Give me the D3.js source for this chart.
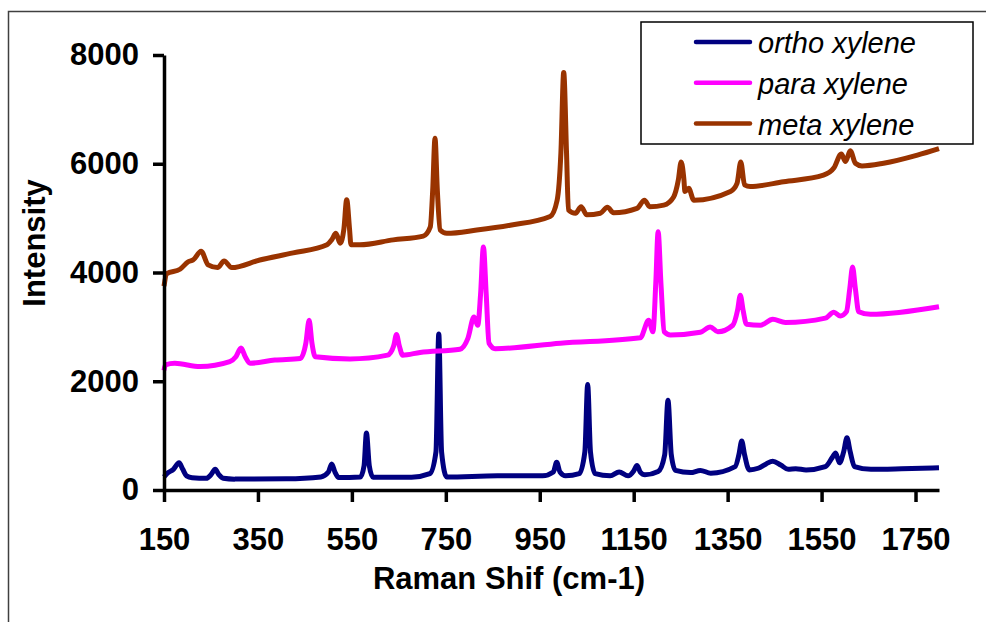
<!DOCTYPE html>
<html>
<head>
<meta charset="utf-8">
<script src="https://cdn.jsdelivr.net/npm/d3@7"></script>
<style>
  body { margin: 0; background: #fff; }
  .chart text { font-family: "Liberation Sans", Arial, sans-serif; }
</style>
</head>
<body>
<svg class="chart"></svg>
<script>
// Raman shift (cm-1), intensity pairs
const ortho = [
  [150, 240], [156, 300], [170, 380], [182, 500], [190, 380], [198, 260], [210, 225],
  [240, 215], [250, 280], [259, 380], [267, 280], [276, 215], [300, 200], [410, 205],
  [484, 240], [500, 330], [507, 480], [514, 330], [522, 230], [568, 240], [576, 450],
  [581, 1050], [587, 450], [595, 235], [677, 235], [716, 300], [729, 700], [735, 2870],
  [741, 700], [752, 240], [860, 260], [956, 260], [979, 330], [986, 510], [993, 330],
  [1005, 260], [1034, 300], [1046, 700], [1052, 1940], [1058, 700], [1068, 300],
  [1100, 260], [1119, 330], [1138, 260], [1150, 350], [1157, 450], [1164, 330],
  [1174, 280], [1202, 340], [1216, 650], [1223, 1650], [1230, 650], [1239, 360],
  [1271, 320], [1292, 360], [1314, 310], [1366, 430], [1374, 650], [1380, 900],
  [1386, 650], [1396, 370], [1415, 400], [1432, 480], [1446, 530], [1463, 460],
  [1479, 380], [1495, 390], [1517, 370], [1558, 430], [1573, 600], [1580, 680],
  [1588, 500], [1597, 700], [1604, 960], [1611, 700], [1620, 430], [1655, 380],
  [1720, 390], [1800, 410]
];

const para = [
  [150, 2200], [153, 2300], [173, 2330], [227, 2270], [290, 2360], [303, 2450],
  [314, 2610], [323, 2450], [333, 2330], [386, 2390], [440, 2420], [452, 2700],
  [459, 3120], [465, 2700], [472, 2450], [546, 2410], [626, 2480], [639, 2650],
  [645, 2860], [651, 2650], [658, 2480], [695, 2530], [780, 2590], [797, 2790],
  [810, 3180], [818, 3030], [824, 3600], [830, 4470], [836, 3600], [842, 2700],
  [855, 2600], [994, 2700], [1164, 2800], [1182, 3120], [1191, 2910], [1197, 3800],
  [1202, 4750], [1208, 3800], [1215, 2910], [1228, 2850], [1292, 2900], [1313, 3000],
  [1329, 2910], [1361, 3030], [1371, 3300], [1377, 3580], [1383, 3300], [1390, 3050],
  [1420, 3030], [1446, 3140], [1473, 3080], [1558, 3160], [1576, 3270], [1590, 3200],
  [1603, 3280], [1610, 3700], [1616, 4100], [1622, 3700], [1629, 3280], [1654, 3230],
  [1800, 3370]
];

const meta = [
  [150, 3750], [156, 3980], [184, 4060], [202, 4200], [212, 4230], [229, 4390],
  [244, 4140], [264, 4090], [278, 4210], [294, 4090], [354, 4230], [425, 4360],
  [497, 4510], [507, 4600], [516, 4720], [525, 4540], [533, 4800], [539, 5340],
  [545, 4800], [548, 4510], [567, 4510], [638, 4600], [702, 4670], [717, 4840],
  [722, 5500], [727, 6470], [732, 5500], [738, 4780], [752, 4720], [816, 4780],
  [887, 4870], [972, 5030], [987, 5330], [995, 6200], [1001, 7680], [1007, 6200],
  [1011, 5150], [1026, 5090], [1038, 5210], [1050, 5060], [1079, 5090], [1094, 5200],
  [1107, 5100], [1157, 5180], [1173, 5330], [1184, 5210], [1214, 5240], [1235, 5390],
  [1245, 5700], [1251, 6030], [1257, 5700], [1259, 5490], [1267, 5550], [1278, 5330],
  [1356, 5490], [1370, 5640], [1378, 6030], [1386, 5610], [1398, 5580], [1469, 5670],
  [1554, 5790], [1576, 5920], [1592, 6180], [1601, 6040], [1611, 6240], [1622, 6010],
  [1636, 5960], [1682, 6010], [1754, 6160], [1800, 6280]
];

const seriesNames = ['ortho xylene', 'para xylene', 'meta xylene'];
const seriesColors = ['#000080', '#ff00ff', '#993300'];
const xTicks = [150, 350, 550, 750, 950, 1150, 1350, 1550, 1750];
const yTicks = [0, 2000, 4000, 6000, 8000];

var width = 986,
    height = 622;

var plot = {left: 164, right: 939, top: 55, bottom: 490};

var svg = d3.select('.chart')
    .attr('width', width)
    .attr('height', height);

svg.append('rect')
    .attr('width', width)
    .attr('height', height)
    .attr('fill', '#fff');

// outer frame, only top and left edges fall inside the picture
svg.append('rect')
    .attr('x', 8.5)
    .attr('y', 11.5)
    .attr('width', width + 20)
    .attr('height', height + 20)
    .attr('fill', 'none')
    .attr('stroke', '#404040')
    .attr('stroke-width', 1.5);

var x = d3.scaleLinear().domain([150, 1800]).range([plot.left, plot.right]);
var y = d3.scaleLinear().domain([0, 8000]).range([plot.bottom, plot.top]);

var line = d3.line()
    .x(d => x(d[0]))
    .y(d => y(d[1]))
    .curve(d3.curveMonotoneX);

[ortho, para, meta].forEach((series, i) => {
    svg.append('path')
        .datum(series)
        .attr('d', line)
        .attr('fill', 'none')
        .attr('stroke', seriesColors[i])
        .attr('stroke-width', 5)
        .attr('stroke-linejoin', 'round');
});

var fmt = d3.format('d');

var xAxis = svg.append('g')
    .attr('transform', `translate(0,${plot.bottom})`)
    .call(d3.axisBottom(x).tickValues(xTicks).tickFormat(fmt)
        .tickSize(12).tickSizeOuter(0).tickPadding(26));

var yAxis = svg.append('g')
    .attr('transform', `translate(${plot.left},0)`)
    .call(d3.axisLeft(y).tickValues(yTicks).tickFormat(fmt)
        .tickSize(11).tickSizeOuter(0).tickPadding(14));

[xAxis, yAxis].forEach(ax => {
    ax.select('.domain').attr('stroke', '#000').attr('stroke-width', 3.5);
    ax.selectAll('.tick line').attr('stroke', '#000').attr('stroke-width', 3.5);
    ax.selectAll('.tick text')
        .attr('fill', '#000')
        .style('font-size', '31px')
        .style('font-weight', 'bold')
        .style('font-family', '"Liberation Sans", Arial, sans-serif');
});

svg.append('text')
    .attr('x', 509)
    .attr('y', 589)
    .attr('text-anchor', 'middle')
    .style('font-size', '31px')
    .style('font-weight', 'bold')
    .text('Raman Shif (cm-1)');

svg.append('text')
    .attr('transform', 'translate(45,243) rotate(-90)')
    .attr('text-anchor', 'middle')
    .style('font-size', '31px')
    .style('font-weight', 'bold')
    .text('Intensity');

// legend
var legend = svg.append('g');

legend.append('rect')
    .attr('x', 641)
    .attr('y', 22)
    .attr('width', 332)
    .attr('height', 122)
    .attr('fill', '#fff')
    .attr('stroke', '#000')
    .attr('stroke-width', 1.5);

seriesNames.forEach((name, i) => {
    let ly = 42 + i * 40.8;
    legend.append('line')
        .attr('x1', 696)
        .attr('x2', 750)
        .attr('y1', ly)
        .attr('y2', ly)
        .attr('stroke', seriesColors[i])
        .attr('stroke-width', 4.5)
        .attr('stroke-linecap', 'round');
    legend.append('text')
        .attr('x', 758)
        .attr('y', ly + 11)
        .style('font-size', '29px')
        .style('font-style', 'italic')
        .text(name);
});
</script>
</body>
</html>
